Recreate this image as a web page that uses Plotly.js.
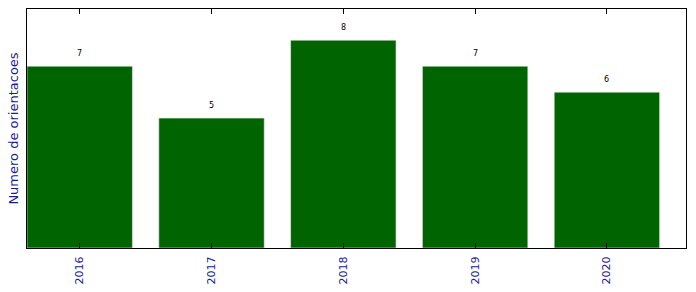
<!DOCTYPE html>
<html><head><meta charset="utf-8">
<script src="https://cdn.plot.ly/plotly-3.0.1.min.js"></script>
<style>body{margin:0;padding:0;background:#fff}#c{width:696px;height:292px}</style>
</head><body><div id="c"></div>
<script>
var years = ['2016', '2017', '2018', '2019', '2020'];
var counts = [7, 5, 8, 7, 6];
var yTitle = 'Numero de orientacoes';

var trace = {
  type: 'bar', x: [0,1,2,3,4], y: counts, width: 0.8,
  marker: {color: '#006400', line: {color: '#e8f0e8', width: 0.6}},
  hoverinfo: 'none'
};
var annotations = counts.map(function(v, i){
  return {x: i, y: v, text: String(v), showarrow: false, yanchor: 'bottom', yshift: 6,
          font: {family: 'DejaVu Sans', size: 8, color: '#000'}};
});
var layout = {
  width: 696, height: 292,
  margin: {l: 27, r: 10, t: 9, b: 44},
  paper_bgcolor: '#fff', plot_bgcolor: '#fff',
  showlegend: false,
  font: {family: 'DejaVu Sans'},
  xaxis: {range: [-0.4, 4.6], tickmode: 'array', tickvals: [0,1,2,3,4], ticktext: years,
          tickangle: -90, ticks: 'inside', ticklen: 5, tickcolor: '#000', tickwidth: 1,
          ticklabelstandoff: 3,
          showline: true, linecolor: '#000', linewidth: 1, mirror: 'ticks', showgrid: false,
          zeroline: false, tickfont: {size: 11, color: '#1a1a96', family: 'DejaVu Sans'}},
  yaxis: {range: [0, 9.2], showticklabels: false, ticks: '', showline: true, linecolor: '#000',
          linewidth: 1, mirror: true, showgrid: false, zeroline: false,
          title: {text: yTitle, font: {size: 13, color: '#1a1a96', family: 'DejaVu Sans'}, standoff: 4}},
  annotations: annotations
};
Plotly.newPlot('c', [trace], layout, {staticPlot: true, displayModeBar: false});
</script></body></html>
